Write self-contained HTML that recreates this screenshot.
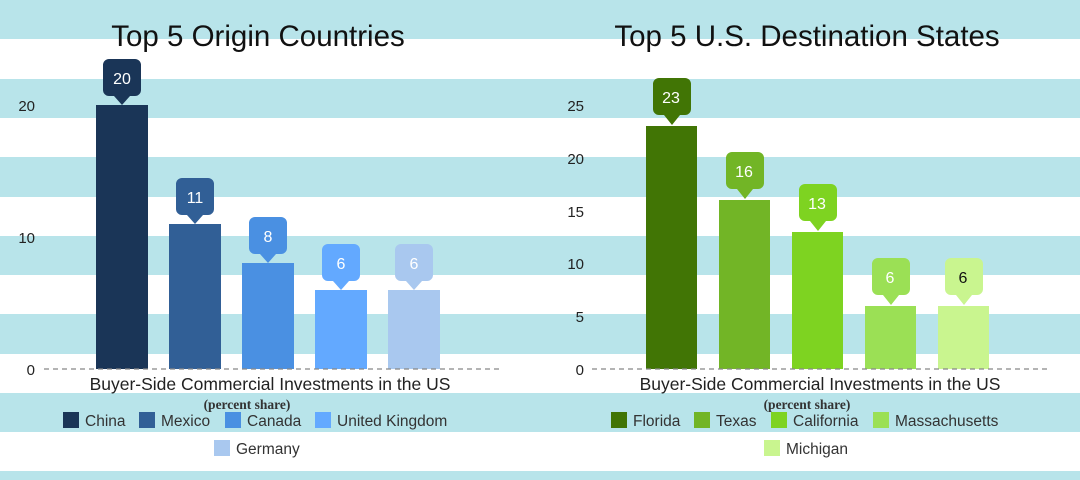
<!DOCTYPE html>
<html><head><meta charset="utf-8"><style>
html,body{margin:0;padding:0;background:#fff}
svg{display:block}
text{font-family:"Liberation Sans",sans-serif}
</style></head><body>
<svg width="1080" height="480" viewBox="0 0 1080 480" xmlns="http://www.w3.org/2000/svg">
<rect width="1080" height="480" fill="#fff"/>
<g fill="#b8e4ea">
<rect y="0" width="1080" height="39"/>
<rect y="79" width="1080" height="39"/>
<rect y="157" width="1080" height="40"/>
<rect y="236" width="1080" height="39"/>
<rect y="314" width="1080" height="40"/>
<rect y="393" width="1080" height="39"/>
<rect y="471" width="1080" height="9"/>
</g>

<!-- Left chart -->
<text x="258" y="46" font-size="29.5" text-anchor="middle" fill="#111">Top 5 Origin Countries</text>
<g font-size="15" fill="#222" text-anchor="end">
<text x="35" y="111">20</text><text x="35" y="243">10</text><text x="35" y="375">0</text>
</g>
<g fill="#1a3557"><rect x="96" y="105" width="52" height="264"/><path d="M109,59 h26 a6,6 0 0 1 6,6 v25 a6,6 0 0 1 -6,6 h-5 l-8,9 l-8,-9 h-5 a6,6 0 0 1 -6,-6 v-25 a6,6 0 0 1 6,-6z"/></g>
<g fill="#315f96"><rect x="169" y="224" width="52" height="145"/><path d="M182,178 h26 a6,6 0 0 1 6,6 v25 a6,6 0 0 1 -6,6 h-5 l-8,9 l-8,-9 h-5 a6,6 0 0 1 -6,-6 v-25 a6,6 0 0 1 6,-6z"/></g>
<g fill="#4a90e2"><rect x="242" y="263" width="52" height="106"/><path d="M255,217 h26 a6,6 0 0 1 6,6 v25 a6,6 0 0 1 -6,6 h-5 l-8,9 l-8,-9 h-5 a6,6 0 0 1 -6,-6 v-25 a6,6 0 0 1 6,-6z"/></g>
<g fill="#63a9ff"><rect x="315" y="290" width="52" height="79"/><path d="M328,244 h26 a6,6 0 0 1 6,6 v25 a6,6 0 0 1 -6,6 h-5 l-8,9 l-8,-9 h-5 a6,6 0 0 1 -6,-6 v-25 a6,6 0 0 1 6,-6z"/></g>
<g fill="#a9c8ef"><rect x="388" y="290" width="52" height="79"/><path d="M401,244 h26 a6,6 0 0 1 6,6 v25 a6,6 0 0 1 -6,6 h-5 l-8,9 l-8,-9 h-5 a6,6 0 0 1 -6,-6 v-25 a6,6 0 0 1 6,-6z"/></g>
<g font-size="16" fill="#fff" text-anchor="middle">
<text x="122" y="84">20</text><text x="195" y="203">11</text><text x="268" y="242">8</text><text x="341" y="269">6</text><text x="414" y="269">6</text>
</g>
<line x1="44" y1="369" x2="500" y2="369" stroke="#888" stroke-width="1.3" stroke-dasharray="5,4"/>
<text x="270" y="390" font-size="17.5" text-anchor="middle" fill="#222">Buyer-Side Commercial Investments in the US</text>
<text x="247" y="409" font-size="13.5" font-weight="bold" text-anchor="middle" fill="#333" style="font-family:'Liberation Serif',serif">(percent share)</text>
<g font-size="15.5" fill="#333">
<rect x="63" y="412" width="16" height="16" fill="#1a3557"/><text x="85" y="426">China</text>
<rect x="139" y="412" width="16" height="16" fill="#315f96"/><text x="161" y="426">Mexico</text>
<rect x="225" y="412" width="16" height="16" fill="#4a90e2"/><text x="247" y="426">Canada</text>
<rect x="315" y="412" width="16" height="16" fill="#63a9ff"/><text x="337" y="426">United Kingdom</text>
<rect x="214" y="440" width="16" height="16" fill="#a9c8ef"/><text x="236" y="454">Germany</text>
</g>

<!-- Right chart -->
<text x="807" y="46" font-size="29.5" text-anchor="middle" fill="#111">Top 5 U.S. Destination States</text>
<g font-size="15" fill="#222" text-anchor="end">
<text x="584" y="111">25</text><text x="584" y="164">20</text><text x="584" y="217">15</text><text x="584" y="269">10</text><text x="584" y="322">5</text><text x="584" y="375">0</text>
</g>
<g fill="#417505"><rect x="646" y="126" width="51" height="243"/><path d="M659,78 h26 a6,6 0 0 1 6,6 v25 a6,6 0 0 1 -6,6 h-5 l-8,10 l-8,-10 h-5 a6,6 0 0 1 -6,-6 v-25 a6,6 0 0 1 6,-6z"/></g>
<g fill="#72b526"><rect x="719" y="200" width="51" height="169"/><path d="M732,152 h26 a6,6 0 0 1 6,6 v25 a6,6 0 0 1 -6,6 h-5 l-8,10 l-8,-10 h-5 a6,6 0 0 1 -6,-6 v-25 a6,6 0 0 1 6,-6z"/></g>
<g fill="#7ed321"><rect x="792" y="232" width="51" height="137"/><path d="M805,184 h26 a6,6 0 0 1 6,6 v25 a6,6 0 0 1 -6,6 h-5 l-8,10 l-8,-10 h-5 a6,6 0 0 1 -6,-6 v-25 a6,6 0 0 1 6,-6z"/></g>
<g fill="#9be055"><rect x="865" y="306" width="51" height="63"/><path d="M878,258 h26 a6,6 0 0 1 6,6 v25 a6,6 0 0 1 -6,6 h-5 l-8,10 l-8,-10 h-5 a6,6 0 0 1 -6,-6 v-25 a6,6 0 0 1 6,-6z"/></g>
<g fill="#c9f58f"><rect x="938" y="306" width="51" height="63"/><path d="M951,258 h26 a6,6 0 0 1 6,6 v25 a6,6 0 0 1 -6,6 h-5 l-8,10 l-8,-10 h-5 a6,6 0 0 1 -6,-6 v-25 a6,6 0 0 1 6,-6z"/></g>
<g font-size="16" text-anchor="middle">
<text x="671" y="103" fill="#fff">23</text><text x="744" y="177" fill="#fff">16</text><text x="817" y="209" fill="#fff">13</text><text x="890" y="283" fill="#fff">6</text><text x="963" y="283" fill="#111">6</text>
</g>
<line x1="592" y1="369" x2="1050" y2="369" stroke="#888" stroke-width="1.3" stroke-dasharray="5,4"/>
<text x="820" y="390" font-size="17.5" text-anchor="middle" fill="#222">Buyer-Side Commercial Investments in the US</text>
<text x="807" y="409" font-size="13.5" font-weight="bold" text-anchor="middle" fill="#333" style="font-family:'Liberation Serif',serif">(percent share)</text>
<g font-size="15.5" fill="#333">
<rect x="611" y="412" width="16" height="16" fill="#417505"/><text x="633" y="426">Florida</text>
<rect x="694" y="412" width="16" height="16" fill="#72b526"/><text x="716" y="426">Texas</text>
<rect x="771" y="412" width="16" height="16" fill="#7ed321"/><text x="793" y="426">California</text>
<rect x="873" y="412" width="16" height="16" fill="#9be055"/><text x="895" y="426">Massachusetts</text>
<rect x="764" y="440" width="16" height="16" fill="#c9f58f"/><text x="786" y="454">Michigan</text>
</g>
</svg>
</body></html>
